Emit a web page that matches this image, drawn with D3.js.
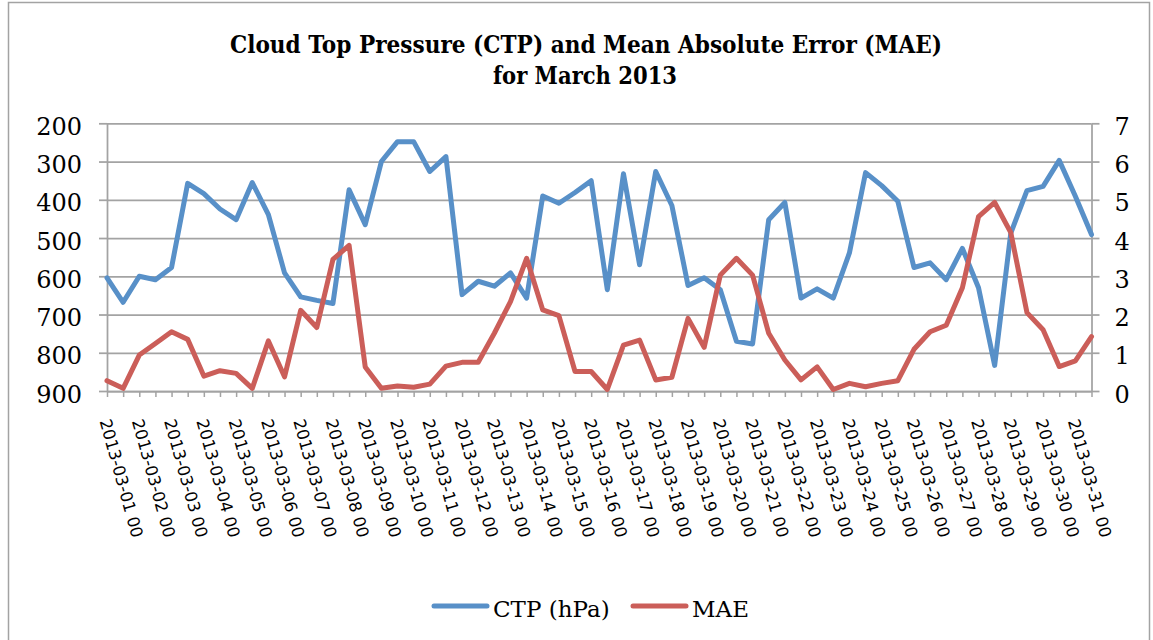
<!DOCTYPE html>
<html lang="en">
<head>
<meta charset="UTF-8">
<title>Cloud Top Pressure (CTP) and Mean Absolute Error (MAE)</title>
<style>
  body { margin: 0; background: #fff; }
  svg { display: block; }
</style>
</head>
<body>
<div id="chart"></div>
<script src="https://d3js.org/d3.v7.min.js"></script>
<script>
// categories, one every 12 hours
const categories = [
  "2013-03-01 00","2013-03-01 12","2013-03-02 00","2013-03-02 12","2013-03-03 00","2013-03-03 12",
  "2013-03-04 00","2013-03-04 12","2013-03-05 00","2013-03-05 12","2013-03-06 00","2013-03-06 12",
  "2013-03-07 00","2013-03-07 12","2013-03-08 00","2013-03-08 12","2013-03-09 00","2013-03-09 12",
  "2013-03-10 00","2013-03-10 12","2013-03-11 00","2013-03-11 12","2013-03-12 00","2013-03-12 12",
  "2013-03-13 00","2013-03-13 12","2013-03-14 00","2013-03-14 12","2013-03-15 00","2013-03-15 12",
  "2013-03-16 00","2013-03-16 12","2013-03-17 00","2013-03-17 12","2013-03-18 00","2013-03-18 12",
  "2013-03-19 00","2013-03-19 12","2013-03-20 00","2013-03-20 12","2013-03-21 00","2013-03-21 12",
  "2013-03-22 00","2013-03-22 12","2013-03-23 00","2013-03-23 12","2013-03-24 00","2013-03-24 12",
  "2013-03-25 00","2013-03-25 12","2013-03-26 00","2013-03-26 12","2013-03-27 00","2013-03-27 12",
  "2013-03-28 00","2013-03-28 12","2013-03-29 00","2013-03-29 12","2013-03-30 00","2013-03-30 12",
  "2013-03-31 00","2013-03-31 12"
];

// CTP (hPa)
const ctp = [
  604, 668, 600, 609, 577, 357, 384, 424, 452, 355, 439, 591,
  654, 663, 671, 374, 465, 300, 248, 248, 326, 287, 648, 613,
  626, 591, 657, 390, 409, 381, 350, 635, 332, 570, 326, 415,
  624, 604, 635, 770, 777, 452, 407, 657, 633, 657, 539, 329,
  363, 404, 577, 565, 609, 527, 630, 833, 487, 376, 365, 297,
  391, 491
];

// MAE
const mae = [
  0.27, 0.07, 0.94, 1.24, 1.55, 1.35, 0.39, 0.53, 0.46, 0.07, 1.31, 0.37,
  2.11, 1.66, 3.44, 3.81, 0.63, 0.07, 0.13, 0.10, 0.18, 0.65, 0.75, 0.75,
  1.51, 2.34, 3.47, 2.12, 1.97, 0.51, 0.51, 0.04, 1.20, 1.33, 0.29, 0.36,
  1.90, 1.14, 3.03, 3.47, 3.03, 1.51, 0.81, 0.29, 0.63, 0.04, 0.20, 0.11,
  0.20, 0.27, 1.09, 1.55, 1.72, 2.70, 4.56, 4.93, 4.14, 2.05, 1.60, 0.64,
  0.79, 1.42
];

const ctpTicks = [200, 300, 400, 500, 600, 700, 800, 900];
const maeTicks = [0, 1, 2, 3, 4, 5, 6, 7];
const seriesNames = ["CTP (hPa)", "MAE"];
const titleLines = ["Cloud Top Pressure (CTP) and Mean Absolute Error (MAE)", "for March 2013"];

const width = 1153, height = 640;
const plotLeft = 107, plotRight = 1091.5, plotTop = 123.3, plotBottom = 391;
const blue = "#5890c8", red = "#cb5e59", grey = "#a3a3a3";
const serif = "'DejaVu Serif', 'Liberation Serif', serif";

const svg = d3.select("#chart").append("svg")
  .attr("width", width)
  .attr("height", height);

svg.append("rect")
  .attr("width", width).attr("height", height)
  .attr("fill", "#fff");

// outer frame
svg.append("rect")
  .attr("x", 8.5).attr("y", 2.5)
  .attr("width", 1141).attr("height", 680)
  .attr("fill", "none")
  .attr("stroke", grey)
  .attr("stroke-width", 1.5);

const x = d3.scalePoint().domain(categories).range([plotLeft, plotRight]);
const yL = d3.scaleLinear().domain([200, 900]).range([plotTop, plotBottom]);
const yR = d3.scaleLinear().domain([0, 7]).range([plotBottom, plotTop]);

// gridlines
svg.append("g")
  .attr("transform", `translate(${plotLeft},0)`)
  .call(d3.axisLeft(yL).tickValues(ctpTicks).tickSize(-(plotRight - plotLeft)).tickFormat(""))
  .call(g => g.select(".domain").remove())
  .call(g => g.selectAll("line").attr("stroke", grey).attr("stroke-width", 1.75));

// left axis
svg.append("g")
  .attr("transform", `translate(${plotLeft},0)`)
  .call(d3.axisLeft(yL).tickValues(ctpTicks).tickSize(8).tickSizeOuter(0).tickPadding(17))
  .call(g => g.select(".domain").attr("stroke", grey).attr("stroke-width", 1.75))
  .call(g => g.selectAll("line").attr("stroke", grey).attr("stroke-width", 1.75))
  .call(g => g.selectAll("text")
    .attr("dy", null).attr("y", 11)
    .attr("font-family", serif).attr("font-size", 24).attr("fill", "#000"));

// right axis
svg.append("g")
  .attr("transform", `translate(${plotRight},0)`)
  .call(d3.axisRight(yR).tickValues(maeTicks).tickFormat(d3.format("d"))
    .tickSize(8).tickSizeOuter(0).tickPadding(15))
  .call(g => g.select(".domain").attr("stroke", grey).attr("stroke-width", 1.75))
  .call(g => g.selectAll("line").attr("stroke", grey).attr("stroke-width", 1.75))
  .call(g => g.selectAll("text")
    .attr("dy", null).attr("y", 11)
    .attr("font-family", serif).attr("font-size", 24).attr("fill", "#000"));

// bottom axis
svg.append("g")
  .attr("transform", `translate(0,${plotBottom})`)
  .call(d3.axisBottom(x).tickSize(6).tickSizeOuter(0)
    .tickFormat((d, i) => i % 2 === 0 ? d : ""))
  .call(g => g.select(".domain").attr("stroke", grey).attr("stroke-width", 1.75))
  .call(g => g.selectAll("line").attr("stroke", grey).attr("stroke-width", 1.5))
  .call(g => g.selectAll("text")
    .attr("y", null).attr("dy", null)
    .attr("text-anchor", "start")
    .attr("transform", "translate(-8,30) rotate(74.5)")
    .attr("font-family", "'DejaVu Sans', sans-serif")
    .attr("font-size", 16.5)
    .attr("fill", "#000"));

// lines
const ctpLine = d3.line().x((d, i) => x(categories[i])).y(d => yL(d));
const maeLine = d3.line().x((d, i) => x(categories[i])).y(d => yR(d));

svg.append("path")
  .datum(ctp)
  .attr("d", ctpLine)
  .attr("fill", "none")
  .attr("stroke", blue)
  .attr("stroke-width", 5)
  .attr("stroke-linejoin", "round")
  .attr("stroke-linecap", "round");

svg.append("path")
  .datum(mae)
  .attr("d", maeLine)
  .attr("fill", "none")
  .attr("stroke", red)
  .attr("stroke-width", 5)
  .attr("stroke-linejoin", "round")
  .attr("stroke-linecap", "round");

// title
svg.append("text")
  .attr("x", 230).attr("y", 53)
  .attr("textLength", 712).attr("lengthAdjust", "spacingAndGlyphs")
  .attr("font-family", serif).attr("font-weight", "bold").attr("font-size", 24.5)
  .text(titleLines[0]);

svg.append("text")
  .attr("x", 493).attr("y", 84)
  .attr("textLength", 184).attr("lengthAdjust", "spacingAndGlyphs")
  .attr("font-family", serif).attr("font-weight", "bold").attr("font-size", 24.5)
  .text(titleLines[1]);

// legend
const legend = svg.append("g");
const legendItems = [
  { name: seriesNames[0], color: blue, x: 434 },
  { name: seriesNames[1], color: red, x: 633 }
];
legendItems.forEach(it => {
  legend.append("line")
    .attr("x1", it.x).attr("x2", it.x + 53)
    .attr("y1", 606).attr("y2", 606)
    .attr("stroke", it.color).attr("stroke-width", 5)
    .attr("stroke-linecap", "round");
  legend.append("text")
    .attr("x", it.x + 59).attr("y", 617)
    .attr("font-family", serif).attr("font-size", 23)
    .text(it.name);
});
</script>
</body>
</html>
